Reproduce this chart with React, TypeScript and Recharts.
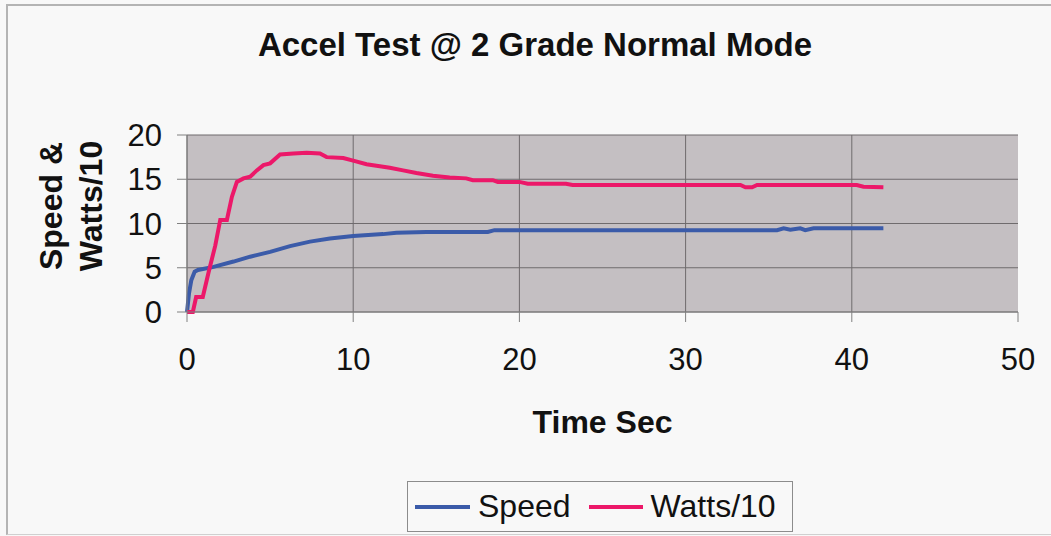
import React from 'react';
import { LineChart, Line, XAxis, YAxis, CartesianGrid, Legend } from 'recharts';

// time (s) / value pairs
const wattsTime = [0, 0.35, 0.55, 0.95, 1.3, 1.7, 2.0, 2.4, 2.7, 3.0, 3.4, 3.8, 4.2, 4.6, 5.0, 5.6, 6.4, 7.2, 8.0, 8.4, 9.4, 10.0, 10.8, 11.5, 12.2, 13.0, 13.8, 14.8, 15.8, 16.8, 17.2, 18.4, 18.7, 20.0, 20.5, 22.8, 23.2, 33.3, 33.6, 34.0, 34.3, 40.3, 40.7, 41.9];
const wattsValues = [0, 0, 1.7, 1.7, 4.5, 7.5, 10.4, 10.4, 13.0, 14.7, 15.1, 15.3, 16.0, 16.6, 16.8, 17.8, 17.9, 18.0, 17.9, 17.5, 17.4, 17.1, 16.7, 16.5, 16.3, 16.0, 15.7, 15.4, 15.2, 15.1, 14.9, 14.9, 14.7, 14.7, 14.5, 14.5, 14.35, 14.35, 14.1, 14.1, 14.35, 14.35, 14.15, 14.1];

const speedTime = [0, 0.12, 0.26, 0.46, 0.66, 1.6, 2.8, 3.8, 5.0, 6.2, 7.4, 8.6, 10.0, 11.8, 12.6, 14.4, 18.1, 18.5, 33.9, 35.5, 35.9, 36.3, 36.9, 37.2, 37.7, 41.9];
const speedValues = [0, 2.1, 3.6, 4.55, 4.75, 5.1, 5.7, 6.25, 6.8, 7.45, 7.95, 8.3, 8.6, 8.8, 8.95, 9.05, 9.05, 9.25, 9.25, 9.25, 9.45, 9.3, 9.45, 9.25, 9.45, 9.45];

const xTicks = [0, 10, 20, 30, 40, 50];
const yTicks = [0, 5, 10, 15, 20];
const xGridValues = [0, 10, 20, 30, 40];

const BLUE = '#3b5ba9';
const PINK = '#ec1869';
const FONT = '"Liberation Sans", Arial, sans-serif';

const speedData = speedTime.map((t, i) => ({ t, v: speedValues[i] }));
const wattsData = wattsTime.map((t, i) => ({ t, v: wattsValues[i] }));

const LegendBox = () => (
  <div
    style={{
      height: 51,
      boxSizing: 'border-box',
      border: '1.5px solid #8c8c8c',
      display: 'flex',
      alignItems: 'center',
      paddingLeft: 7,
      fontFamily: FONT,
      fontSize: 32,
      color: '#111',
    }}
  >
    <span style={{ width: 55, height: 4, background: BLUE, marginRight: 8 }} />
    <span style={{ marginRight: 18 }}>Speed</span>
    <span style={{ width: 54, height: 4, background: PINK, marginRight: 8 }} />
    <span>Watts/10</span>
  </div>
);

export default function App() {
  return (
    <div
      style={{
        position: 'absolute',
        left: 0,
        top: 0,
        width: 1051,
        height: 536,
        background: '#f8f8f8',
        overflow: 'hidden',
        fontFamily: FONT,
      }}
    >
      <div
        style={{
          position: 'absolute',
          left: 6,
          top: 4,
          width: 1100,
          height: 528,
          borderTop: '2px solid #b4b4b4',
          borderLeft: '2px solid #b4b4b4',
          borderBottom: '1px solid #d0d0d0',
        }}
      />
      <div
        style={{
          position: 'absolute',
          left: 0,
          top: 28,
          width: 1070,
          textAlign: 'center',
          fontSize: 33,
          lineHeight: '33px',
          fontWeight: 'bold',
          color: '#111',
        }}
      >
        Accel Test @ 2 Grade Normal Mode
      </div>
      <LineChart width={1051} height={536} margin={{ top: 135, right: 33, left: 0, bottom: 0 }}>
        <CartesianGrid stroke="#6f6b6d" strokeWidth={1} fill="#c4bfc2" verticalValues={xGridValues} />
        <XAxis
          type="number"
          dataKey="t"
          domain={[0, 50]}
          ticks={xTicks}
          allowDuplicatedCategory={false}
          height={173}
          tickSize={10}
          tickMargin={26}
          stroke="#808080"
          tick={{ fill: '#111', fontSize: 31, fontFamily: FONT }}
          label={{
            content: (props: any) => {
              const vb = props.viewBox;
              return (
                <text
                  x={vb.x + vb.width / 2}
                  y={vb.y + 121}
                  textAnchor="middle"
                  fontSize={32}
                  fontWeight="bold"
                  fontFamily={FONT}
                  fill="#111"
                >
                  Time Sec
                </text>
              );
            },
          }}
        />
        <YAxis
          type="number"
          domain={[0, 20]}
          ticks={yTicks}
          width={187}
          tickSize={10}
          tickMargin={15}
          stroke="#808080"
          tick={{ fill: '#111', fontSize: 31, fontFamily: FONT }}
          label={{
            content: () => (
              <g fontSize={32} fontWeight="bold" fontFamily={FONT} fill="#111">
                <text x={62} y={206} textAnchor="middle" transform="rotate(-90 62 206)">
                  Speed &amp;
                </text>
                <text x={102} y={206} textAnchor="middle" transform="rotate(-90 102 206)">
                  Watts/10
                </text>
              </g>
            ),
          }}
        />
        <Legend
          verticalAlign="bottom"
          wrapperStyle={{ left: 407, top: 481, width: 386 }}
          content={() => <LegendBox />}
        />
        <Line
          data={speedData}
          dataKey="v"
          name="Speed"
          type="linear"
          stroke={BLUE}
          strokeWidth={4}
          dot={false}
          isAnimationActive={false}
        />
        <Line
          data={wattsData}
          dataKey="v"
          name="Watts/10"
          type="linear"
          stroke={PINK}
          strokeWidth={4}
          dot={false}
          isAnimationActive={false}
        />
      </LineChart>
    </div>
  );
}
